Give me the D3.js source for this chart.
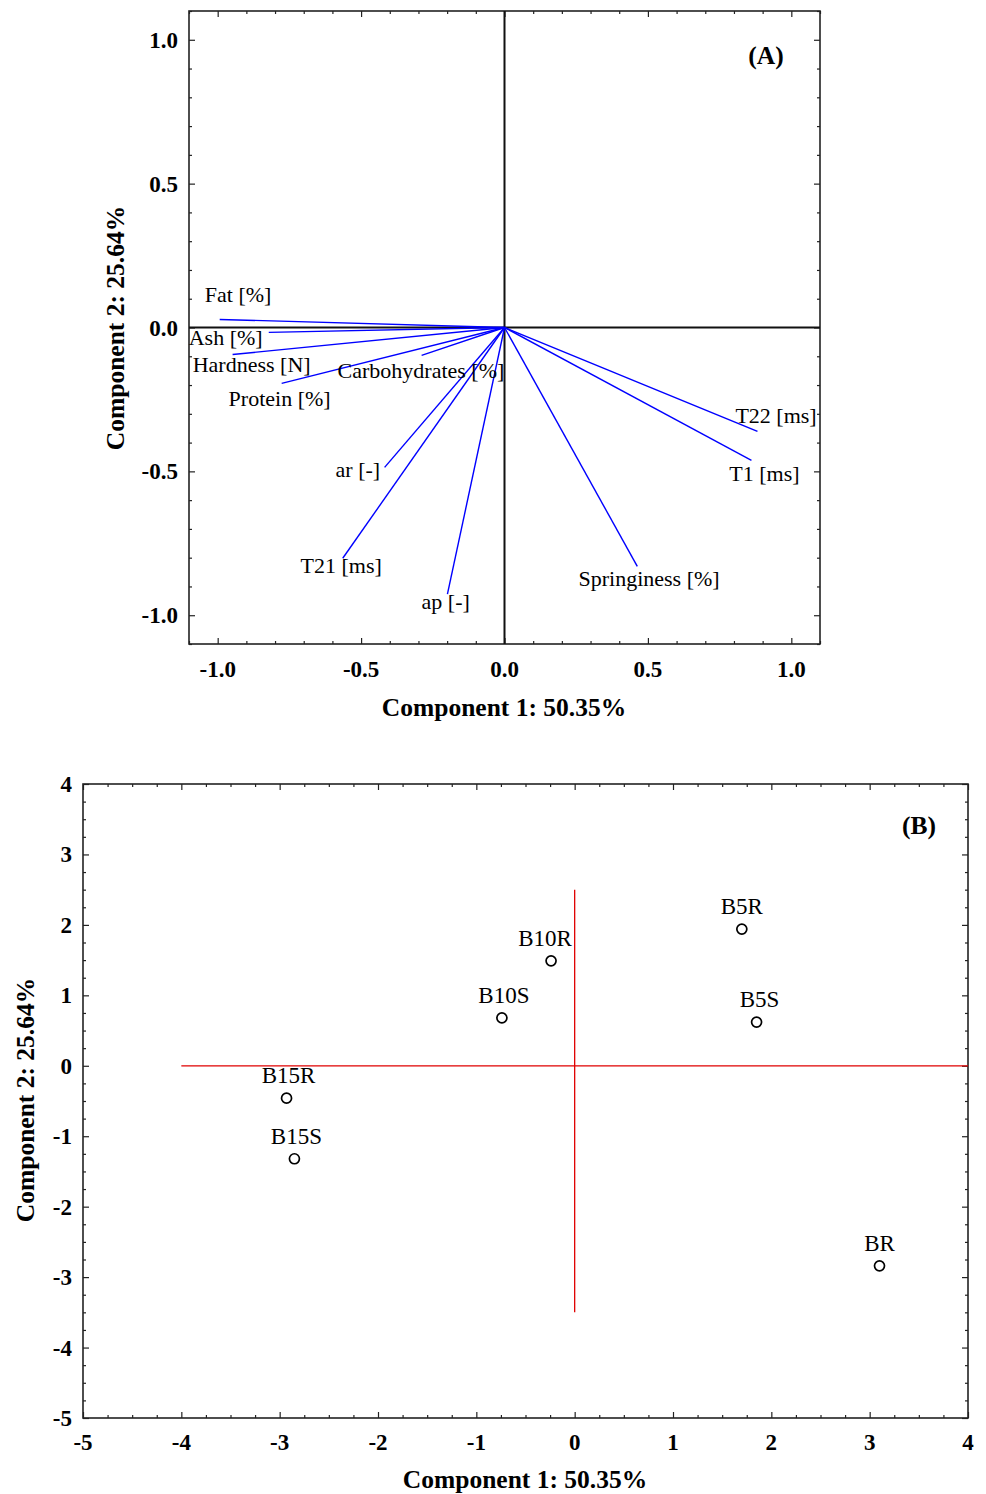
<!DOCTYPE html>
<html>
<head>
<meta charset="utf-8">
<script src="https://cdn.jsdelivr.net/npm/d3@7"></script>
<style>
  body { margin: 0; background: #fff; }
  svg { display: block; }
  text { font-family: "Liberation Serif", "Times New Roman", serif; fill: #000; }
</style>
</head>
<body>
<svg id="chart" width="986" height="1494"></svg>
<script>
// ---- Panel A: loadings ----
const variables = ["Fat [%]", "Ash [%]", "Hardness [N]", "Protein [%]", "Carbohydrates [%]",
  "ar [-]", "T21 [ms]", "ap [-]", "Springiness [%]", "T22 [ms]", "T1 [ms]"];
const loadPC1 = [-0.993, -0.822, -0.948, -0.777, -0.289, -0.418, -0.564, -0.199, 0.463, 0.882, 0.861];
const loadPC2 = [0.028, -0.017, -0.094, -0.194, -0.097, -0.486, -0.802, -0.927, -0.830, -0.361, -0.462];
// label anchor (left, baseline) in data units
const labelPC1 = [-1.045, -1.101, -1.087, -0.962, -0.582, -0.589, -0.711, -0.289, 0.258, 0.805, 0.784];
const labelPC2 = [0.087, -0.0625, -0.153, -0.274, -0.177, -0.521, -0.854, -0.979, -0.899, -0.333, -0.535];
const ticksA = [-1.0, -0.5, 0.0, 0.5, 1.0];

// ---- Panel B: scores ----
const samples = ["B5R", "B10R", "B10S", "B5S", "B15R", "B15S", "BR"];
const scorePC1 = [1.70, -0.24, -0.74, 1.85, -2.93, -2.85, 3.10];
const scorePC2 = [1.94, 1.49, 0.68, 0.62, -0.46, -1.32, -2.84];
const labelShift = [0, -6, 2, 3, 2, 2, 0]; // horizontal nudge of sample labels (px)
const ticksB = [-5, -4, -3, -2, -1, 0, 1, 2, 3, 4];

const xTitle = "Component 1: 50.35%";
const yTitle = "Component 2: 25.64%";

const svg = d3.select("#chart");

function framePanel(g, x, y, majorX, minorX, majorY, minorY) {
  const [x0, x1] = x.range();
  const [y0, y1] = y.range();
  const axisColor = "#222";
  const axes = [
    [d3.axisBottom(x), `translate(0,${y0})`, majorX, minorX],
    [d3.axisTop(x), `translate(0,${y1})`, majorX, minorX],
    [d3.axisLeft(y), `translate(${x0},0)`, majorY, minorY],
    [d3.axisRight(y), `translate(${x1},0)`, majorY, minorY]
  ];
  axes.forEach(([ax, tr, maj, min]) => {
    const gm = g.append("g").attr("transform", tr)
      .call(ax.tickValues(min).tickSize(-3).tickFormat(""));
    gm.select(".domain").remove();
    gm.selectAll("line").attr("stroke", axisColor).attr("stroke-width", 1.2);
    const gM = g.append("g").attr("transform", tr)
      .call(ax.tickValues(maj).tickSize(-6).tickFormat(""));
    gM.select(".domain").remove();
    gM.selectAll("line").attr("stroke", axisColor).attr("stroke-width", 1.2);
  });
  g.append("rect").attr("x", x0).attr("y", y1).attr("width", x1 - x0).attr("height", y0 - y1)
    .attr("fill", "none").attr("stroke", axisColor).attr("stroke-width", 1.6);
}

// ================= Panel A =================
(function () {
  const x = d3.scaleLinear().domain([-1.1, 1.1]).range([189, 820]);
  const y = d3.scaleLinear().domain([-1.1, 1.1]).range([644, 11]);
  const g = svg.append("g");
  const minor = d3.range(-11, 12).map(v => v / 10).filter(v => Math.abs(v * 2 - Math.round(v * 2)) > 1e-6);
  framePanel(g, x, y, ticksA, minor, ticksA, minor);

  g.append("line").attr("x1", x(-1.1)).attr("x2", x(1.1)).attr("y1", y(0)).attr("y2", y(0))
    .attr("stroke", "#111").attr("stroke-width", 2);
  g.append("line").attr("x1", x(0)).attr("x2", x(0)).attr("y1", y(-1.1)).attr("y2", y(1.1))
    .attr("stroke", "#111").attr("stroke-width", 2);

  g.selectAll("line.vec").data(variables).enter().append("line").attr("class", "vec")
    .attr("x1", x(0)).attr("y1", y(0))
    .attr("x2", (d, i) => x(loadPC1[i])).attr("y2", (d, i) => y(loadPC2[i]))
    .attr("stroke", "#0000ff").attr("stroke-width", 1.4);

  g.selectAll("text.vl").data(variables).enter().append("text").attr("class", "vl")
    .attr("x", (d, i) => x(labelPC1[i])).attr("y", (d, i) => y(labelPC2[i]))
    .attr("font-size", 22).attr("fill", "#111").text(d => d);

  const fmt = d3.format(".1f");
  g.selectAll("text.xt").data(ticksA).enter().append("text")
    .attr("x", d => x(d)).attr("y", 677).attr("text-anchor", "middle")
    .attr("font-size", 23).attr("font-weight", "bold").text(d => fmt(d).replace("−", "-"));
  g.selectAll("text.yt").data(ticksA).enter().append("text")
    .attr("x", 178).attr("y", d => y(d) + 8).attr("text-anchor", "end")
    .attr("font-size", 23).attr("font-weight", "bold").text(d => fmt(d).replace("−", "-"));

  g.append("text").attr("x", 504).attr("y", 716).attr("text-anchor", "middle")
    .attr("font-size", 25.5).attr("font-weight", "bold").text(xTitle);
  g.append("text").attr("transform", "translate(124,328) rotate(-90)").attr("text-anchor", "middle")
    .attr("font-size", 25.5).attr("font-weight", "bold").text(yTitle);
  g.append("text").attr("x", 766).attr("y", 64).attr("text-anchor", "middle")
    .attr("font-size", 25.5).attr("font-weight", "bold").text("(A)");
})();

// ================= Panel B =================
(function () {
  const x = d3.scaleLinear().domain([-5, 4]).range([83, 968]);
  const y = d3.scaleLinear().domain([-5, 4]).range([1418, 784]);
  const g = svg.append("g");
  const minor = d3.range(-20, 17).map(v => v / 4).filter(v => !Number.isInteger(v));
  framePanel(g, x, y, ticksB, minor, ticksB, minor);

  g.append("line").attr("x1", x(-4)).attr("x2", x(4)).attr("y1", y(0)).attr("y2", y(0))
    .attr("stroke", "#e00000").attr("stroke-width", 1.3);
  g.append("line").attr("x1", x(0)).attr("x2", x(0)).attr("y1", y(2.5)).attr("y2", y(-3.5))
    .attr("stroke", "#e00000").attr("stroke-width", 1.3);

  g.selectAll("circle.pt").data(samples).enter().append("circle").attr("class", "pt")
    .attr("cx", (d, i) => x(scorePC1[i])).attr("cy", (d, i) => y(scorePC2[i]))
    .attr("r", 5).attr("fill", "#fff").attr("stroke", "#000").attr("stroke-width", 1.7);

  g.selectAll("text.pl").data(samples).enter().append("text").attr("class", "pl")
    .attr("x", (d, i) => x(scorePC1[i]) + labelShift[i]).attr("y", (d, i) => y(scorePC2[i]) - 15)
    .attr("text-anchor", "middle").attr("font-size", 23).attr("fill", "#111").text(d => d);

  g.selectAll("text.xt").data(ticksB).enter().append("text")
    .attr("x", d => x(d)).attr("y", 1450).attr("text-anchor", "middle")
    .attr("font-size", 23).attr("font-weight", "bold").text(d => String(d));
  g.selectAll("text.yt").data(ticksB).enter().append("text")
    .attr("x", 72).attr("y", d => y(d) + 8).attr("text-anchor", "end")
    .attr("font-size", 23).attr("font-weight", "bold").text(d => String(d));

  g.append("text").attr("x", 525).attr("y", 1488).attr("text-anchor", "middle")
    .attr("font-size", 25.5).attr("font-weight", "bold").text(xTitle);
  g.append("text").attr("transform", "translate(34,1100) rotate(-90)").attr("text-anchor", "middle")
    .attr("font-size", 25.5).attr("font-weight", "bold").text(yTitle);
  g.append("text").attr("x", 919).attr("y", 834).attr("text-anchor", "middle")
    .attr("font-size", 25.5).attr("font-weight", "bold").text("(B)");
})();
</script>
</body>
</html>
